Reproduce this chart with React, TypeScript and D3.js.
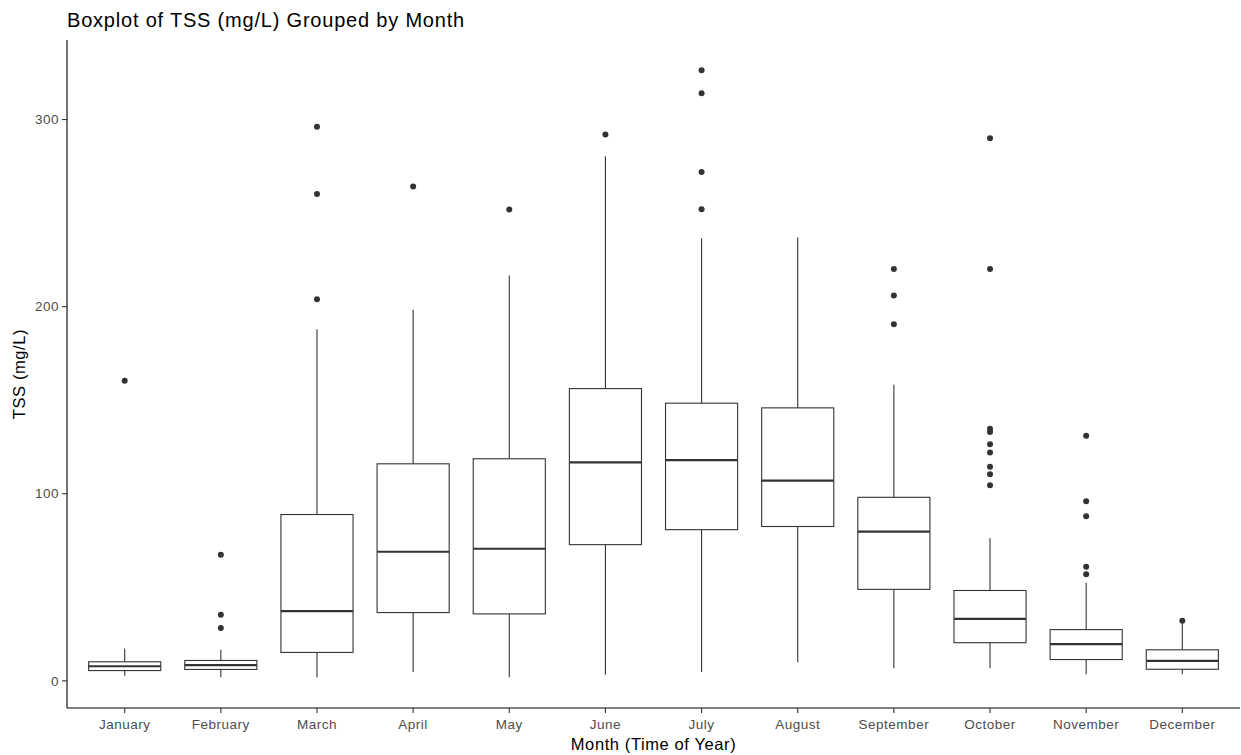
import React from "react";
import * as d3 from "d3";

const months = ["January","February","March","April","May","June","July","August","September","October","November","December"];
const whiskerLow = [2.7, 2.0, 1.8, 4.8, 2.0, 3.4, 4.8, 10.0, 6.8, 6.8, 3.6, 3.6];
const q1 = [5.5, 6.1, 15.2, 36.5, 35.8, 72.8, 80.8, 82.5, 48.9, 20.4, 11.4, 6.2];
const medians = [7.8, 8.4, 37.3, 69.0, 70.6, 116.8, 118.0, 107.0, 79.8, 33.1, 19.6, 10.7];
const q3 = [10.2, 10.9, 88.9, 116.0, 118.7, 156.2, 148.4, 145.9, 98.1, 48.3, 27.4, 16.6];
const whiskerHigh = [17.3, 16.6, 187.9, 198.4, 216.6, 280.4, 236.5, 236.9, 158.3, 76.2, 52.4, 31.0];
const outliers: number[][] = [
  [160.4],
  [28.2, 35.3, 67.4],
  [204.0, 260.2, 296.2],
  [264.2],
  [251.9],
  [292.0],
  [252.0, 272.0, 314.0, 326.3],
  [],
  [190.6, 206.0, 220.1],
  [104.6, 110.4, 114.4, 122.0, 126.4, 133.0, 134.7, 220.1, 290.0],
  [57.0, 61.0, 88.0, 96.0, 131.0],
  [32.1],
];
const yTicks = [0, 100, 200, 300];

const W = 1241, H = 755;
const left = 67, right = 1240, top = 40, bottom = 708;
const FONT = "'Liberation Sans', Arial, sans-serif";

export default function App() {
  const n = months.length;
  const unit = (right - left) / (n - 1 + 1.2);
  const x = d3.scalePoint<string>().domain(months).range([left + 0.6 * unit, right - 0.6 * unit]);
  const y = d3.scaleLinear().domain([-14.5, 342.5]).range([bottom, top]);
  const bw = unit * 0.75;
  const col = "#333333";

  return (
    <svg width={W} height={H} style={{ position: "absolute", left: 0, top: 0, background: "#fff" }}>
      <rect x={0} y={0} width={W} height={H} fill="#fff" />
      <text x={67} y={27} fontFamily={FONT} fontSize={20} letterSpacing={0.8} fill="#000">Boxplot of TSS (mg/L) Grouped by Month</text>
      {months.map((m, i) => {
        const cx = x(m)!;
        return (
          <g key={m}>
            <line x1={cx} x2={cx} y1={y(q3[i])} y2={y(whiskerHigh[i])} stroke={col} strokeWidth={1.1} />
            <line x1={cx} x2={cx} y1={y(q1[i])} y2={y(whiskerLow[i])} stroke={col} strokeWidth={1.1} />
            <rect x={cx - bw / 2} y={y(q3[i])} width={bw} height={y(q1[i]) - y(q3[i])} fill="#fff" stroke={col} strokeWidth={1.1} />
            <line x1={cx - bw / 2} x2={cx + bw / 2} y1={y(medians[i])} y2={y(medians[i])} stroke={col} strokeWidth={2.2} />
            {outliers[i].map((v, j) => (
              <circle key={j} cx={cx} cy={y(v)} r={3} fill={col} />
            ))}
          </g>
        );
      })}
      <line x1={left} x2={left} y1={top} y2={bottom} stroke="#000" strokeWidth={1.1} />
      <line x1={left} x2={right} y1={bottom} y2={bottom} stroke="#000" strokeWidth={1.1} />
      {yTicks.map((t) => (
        <g key={t}>
          <line x1={left - 5} x2={left} y1={y(t)} y2={y(t)} stroke="#333" strokeWidth={1.1} />
          <text x={left - 8} y={y(t)} dy="0.35em" textAnchor="end" fontFamily={FONT} fontSize={13.5} letterSpacing={0.5} fill="#4d4d4d">{t}</text>
        </g>
      ))}
      {months.map((m) => (
        <g key={m}>
          <line x1={x(m)} x2={x(m)} y1={bottom} y2={bottom + 5} stroke="#333" strokeWidth={1.1} />
          <text x={x(m)} y={729} textAnchor="middle" fontFamily={FONT} fontSize={13.5} letterSpacing={0.5} fill="#4d4d4d">{m}</text>
        </g>
      ))}
      <text x={(left + right) / 2} y={750} textAnchor="middle" fontFamily={FONT} fontSize={16.5} letterSpacing={0.6} fill="#000">Month (Time of Year)</text>
      <text transform={`translate(25,${(top + bottom) / 2}) rotate(-90)`} textAnchor="middle" fontFamily={FONT} fontSize={16.5} letterSpacing={0.6} fill="#000">TSS (mg/L)</text>
    </svg>
  );
}
